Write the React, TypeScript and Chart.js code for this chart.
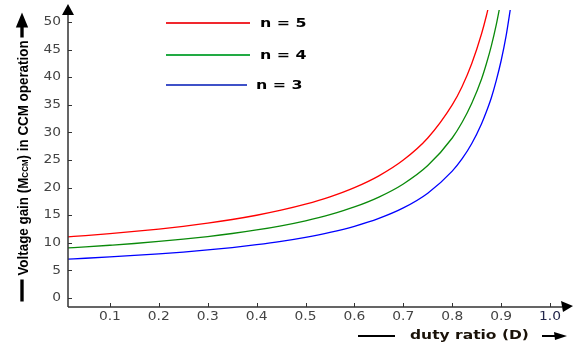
import { useEffect, useRef } from 'react';
import { Chart, registerables } from 'chart.js';

Chart.register(...registerables);

// Duty ratio sample points (D)
const DUTY = [0.014, 0.05, 0.1, 0.15, 0.2, 0.25, 0.3, 0.35, 0.4, 0.45, 0.5, 0.55, 0.6, 0.65, 0.7, 0.75, 0.8, 0.82, 0.84, 0.86, 0.87, 0.88, 0.89, 0.9, 0.91, 0.92];

// Voltage gain in CCM for each n
const GAIN_N5 = [11.09, 11.32, 11.67, 12.06, 12.5, 13.0, 13.57, 14.23, 15.0, 15.91, 17.0, 18.33, 20.0, 22.14, 25.0, 29.0, 35.0, 38.3, 42.5, 47.9, 51.2, 55.0, null, null, null, null];
const GAIN_N4 = [9.07, 9.26, 9.56, 9.88, 10.25, 10.67, 11.14, 11.69, 12.33, 13.09, 14.0, 15.11, 16.5, 18.29, 20.67, 24.0, 29.0, 31.8, 35.3, 39.7, 42.5, 45.7, 49.5, 54.0, null, null];
const GAIN_N3 = [7.06, 7.21, 7.44, 7.71, 8.0, 8.33, 8.71, 9.15, 9.67, 10.27, 11.0, 11.89, 13.0, 14.43, 16.33, 19.0, 23.0, 25.2, 28.0, 31.6, 33.8, 36.3, 39.4, 43.0, 47.4, 53.0];

const SERIES_LABELS = ['n = 5', 'n = 4', 'n = 3'];
const LINE_COLORS = ['#ff0000', '#0a8a0a', '#0000ff'];
const LEGEND_COLORS = ['#f0282e', '#22aa44', '#3f51c8'];

const X_TICKS = [0.1, 0.2, 0.3, 0.4, 0.5, 0.6, 0.7, 0.8, 0.9, 1.0];
const Y_TICKS = [0, 5, 10, 15, 20, 25, 30, 35, 40, 45, 50];

const X_TITLE = 'duty ratio (D)';
const Y_TITLE_PARTS = ['Voltage gain (M', 'CCM', ') in CCM operation'];

const toPoints = (vals: (number | null)[]) =>
  DUTY.map((d, i) => ({ x: d, y: vals[i] })).filter((p) => p.y !== null);

// text drawn with a horizontal stretch factor
function wideText(ctx: CanvasRenderingContext2D, text: string, x: number, y: number, align: CanvasTextAlign, sx: number) {
  ctx.save();
  ctx.translate(x, y);
  ctx.scale(sx, 1);
  ctx.textAlign = align;
  ctx.fillText(text, 0, 0);
  ctx.restore();
}

const decorPlugin = {
  id: 'decor',
  afterDraw(chart: any) {
    const { ctx, chartArea } = chart;
    const xs = chart.scales.x;
    const ys = chart.scales.y;
    const L = chartArea.left;
    const B = chartArea.bottom;
    const R = chartArea.right;
    ctx.save();

    // axis lines
    ctx.strokeStyle = '#333';
    ctx.lineWidth = 1.5;
    ctx.beginPath();
    ctx.moveTo(L, B);
    ctx.lineTo(L, 12);
    ctx.moveTo(L, B);
    ctx.lineTo(R, B);
    ctx.stroke();

    // inward tick marks
    ctx.lineWidth = 1;
    ctx.beginPath();
    xs.ticks.forEach((t: any) => {
      const px = Math.round(xs.getPixelForValue(t.value)) + 0.5;
      ctx.moveTo(px, B);
      ctx.lineTo(px, B - 4);
    });
    ys.ticks.forEach((t: any) => {
      const py = Math.round(ys.getPixelForValue(t.value)) + 0.5;
      ctx.moveTo(L, py);
      ctx.lineTo(L + 4, py);
    });
    ctx.stroke();

    // tick labels
    ctx.font = '12px "DejaVu Sans"';
    ctx.textBaseline = 'middle';
    xs.ticks.forEach((t: any) => {
      const px = xs.getPixelForValue(t.value);
      ctx.fillStyle = t.value === 1 ? '#22264a' : '#444';
      wideText(ctx, Number(t.value).toFixed(1), px, B + 10, 'center', 1.15);
    });
    ctx.fillStyle = '#444';
    ys.ticks.forEach((t: any) => {
      const py = ys.getPixelForValue(t.value);
      wideText(ctx, String(t.value), L - 7, py, 'right', 1.15);
    });

    // arrowheads
    ctx.fillStyle = '#000';
    ctx.beginPath();
    ctx.moveTo(L, 4);
    ctx.lineTo(L + 6, 15);
    ctx.lineTo(L - 6, 15);
    ctx.closePath();
    ctx.fill();
    ctx.beginPath();
    ctx.moveTo(R + 11, B - 1);
    ctx.lineTo(R - 1, B - 6);
    ctx.lineTo(R + 1, B + 5);
    ctx.closePath();
    ctx.fill();

    // legend
    const legendY = [23, 55, 85];
    chart.data.datasets.forEach((ds: any, i: number) => {
      ctx.strokeStyle = LEGEND_COLORS[i];
      ctx.lineWidth = 2;
      ctx.beginPath();
      ctx.moveTo(166, legendY[i]);
      ctx.lineTo(i === 2 ? 247 : 250, legendY[i]);
      ctx.stroke();
      ctx.fillStyle = '#000';
      ctx.font = 'bold 13px "DejaVu Sans"';
      ctx.textBaseline = 'middle';
      wideText(ctx, ds.label, i === 2 ? 256 : 260, legendY[i] + 1, 'left', 1.22);
    });

    // x axis title with leading bar and trailing arrow
    ctx.font = 'bold 12.5px "DejaVu Sans"';
    ctx.fillStyle = '#1a1208';
    ctx.textBaseline = 'middle';
    const xtX = 410;
    const xtY = 336;
    const xSx = 1.24;
    const xtW = ctx.measureText(X_TITLE).width * xSx;
    wideText(ctx, X_TITLE, xtX, xtY, 'left', xSx);
    ctx.strokeStyle = '#000';
    ctx.lineWidth = 2;
    ctx.beginPath();
    ctx.moveTo(358, xtY);
    ctx.lineTo(395, xtY);
    ctx.moveTo(542, xtY);
    ctx.lineTo(556, xtY);
    ctx.stroke();
    ctx.fillStyle = '#000';
    ctx.beginPath();
    ctx.moveTo(567, xtY);
    ctx.lineTo(554, xtY - 4);
    ctx.lineTo(555, xtY + 4);
    ctx.closePath();
    ctx.fill();
    void xtW;

    // y axis title, rotated, with subscript
    ctx.translate(22, 158);
    ctx.rotate(-Math.PI / 2);
    ctx.scale(1, 1.12);
    const big = 'bold 13.4px "Liberation Sans"';
    const small = 'bold 8px "Liberation Sans"';
    ctx.font = big;
    const w0 = ctx.measureText(Y_TITLE_PARTS[0]).width;
    const w2 = ctx.measureText(Y_TITLE_PARTS[2]).width;
    ctx.font = small;
    const w1 = ctx.measureText(Y_TITLE_PARTS[1]).width;
    const total = w0 + w1 + w2;
    let cx = -total / 2;
    ctx.fillStyle = '#000';
    ctx.textBaseline = 'alphabetic';
    ctx.textAlign = 'left';
    ctx.font = big;
    ctx.fillText(Y_TITLE_PARTS[0], cx, 5);
    cx += w0;
    ctx.font = small;
    ctx.fillText(Y_TITLE_PARTS[1], cx, 5);
    cx += w1;
    ctx.font = big;
    ctx.fillText(Y_TITLE_PARTS[2], cx, 5);
    ctx.strokeStyle = '#000';
    ctx.lineWidth = 3;
    ctx.beginPath();
    ctx.moveTo(-total / 2 - 26, 0);
    ctx.lineTo(-total / 2 - 4, 0);
    ctx.moveTo(total / 2 + 3, 0);
    ctx.lineTo(total / 2 + 15, 0);
    ctx.stroke();
    ctx.beginPath();
    ctx.moveTo(total / 2 + 28, 0);
    ctx.lineTo(total / 2 + 13, -5.5);
    ctx.lineTo(total / 2 + 13, 5.5);
    ctx.closePath();
    ctx.fill();

    ctx.restore();
  },
};

export default function App() {
  const canvasRef = useRef<HTMLCanvasElement>(null);

  useEffect(() => {
    const canvas = canvasRef.current;
    if (!canvas) return;
    const series = [GAIN_N5, GAIN_N4, GAIN_N3];
    const chart = new Chart(canvas, {
      type: 'line',
      data: {
        datasets: series.map((vals, i) => ({
          label: SERIES_LABELS[i],
          data: toPoints(vals),
          borderColor: LINE_COLORS[i],
          borderWidth: 1.3,
          pointRadius: 0,
          fill: false,
          cubicInterpolationMode: 'monotone',
        })),
      },
      options: {
        responsive: false,
        animation: false,
        layout: { padding: { top: 10, right: 13, left: 0, bottom: 0 } },
        plugins: { legend: { display: false }, tooltip: { enabled: false } },
        scales: {
          x: {
            type: 'linear',
            min: 0.0143,
            max: 1.0245,
            grid: { display: false, drawTicks: false },
            border: { display: false },
            afterFit: (s: any) => {
              s.height = 40;
            },
            afterBuildTicks: (s: any) => {
              s.ticks = X_TICKS.map((v) => ({ value: v }));
            },
            ticks: { display: false },
          },
          y: {
            min: -1.63,
            max: 52.2,
            grid: { display: false, drawTicks: false },
            border: { display: false },
            afterFit: (s: any) => {
              s.width = 68;
            },
            afterBuildTicks: (s: any) => {
              s.ticks = Y_TICKS.map((v) => ({ value: v }));
            },
            ticks: { display: false },
          },
        },
      },
      plugins: [decorPlugin],
    } as any);
    return () => chart.destroy();
  }, []);

  return (
    <div style={{ position: 'absolute', left: 0, top: 0, width: 575, height: 347, background: '#fff' }}>
      <canvas ref={canvasRef} width={575} height={347} />
    </div>
  );
}
